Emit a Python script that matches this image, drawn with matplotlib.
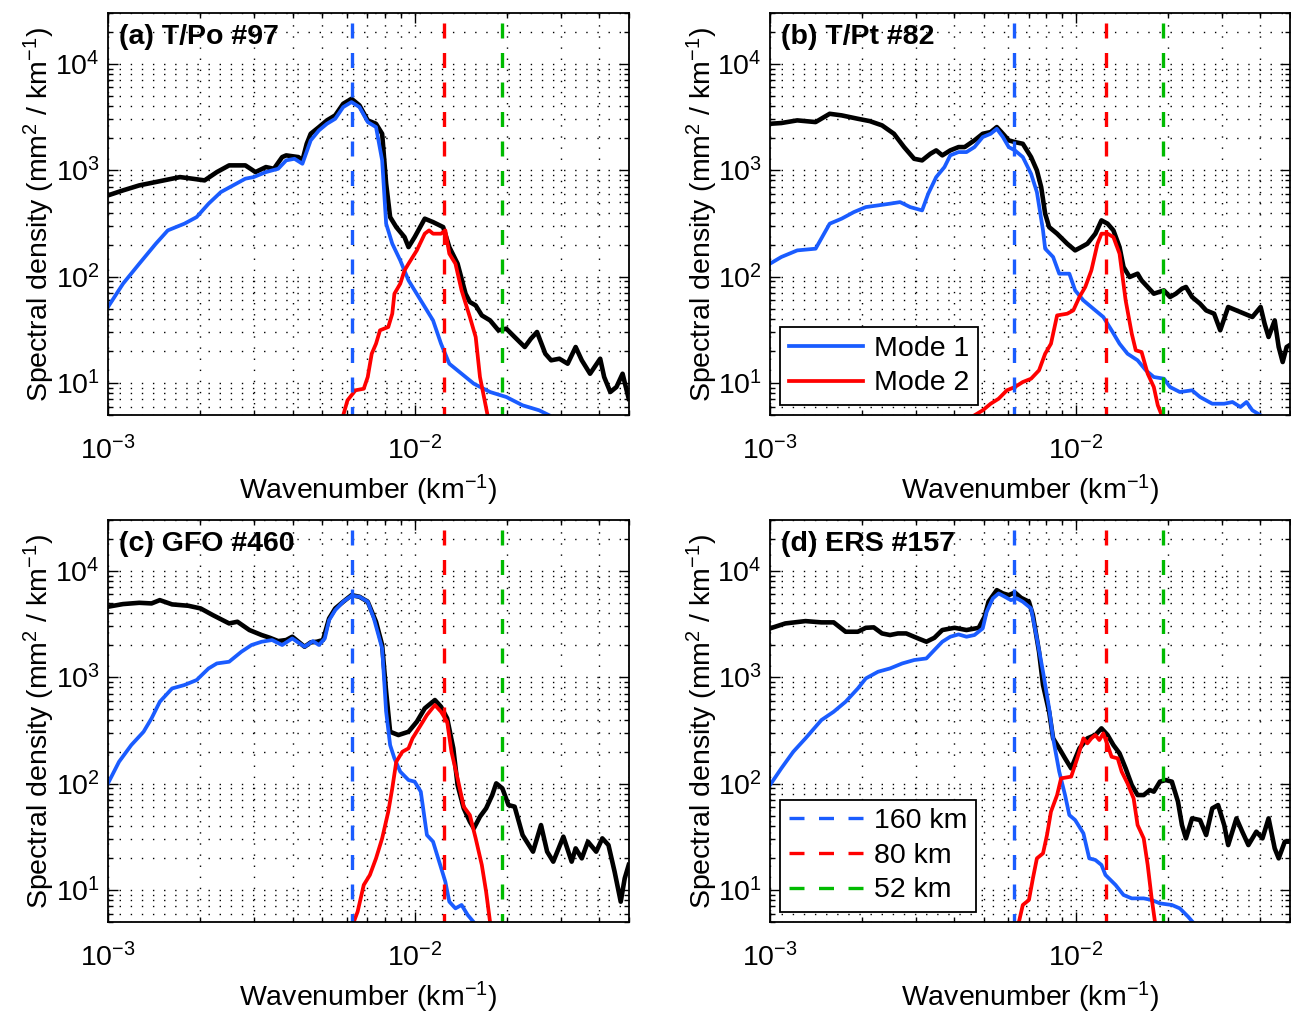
import numpy as np
import matplotlib
matplotlib.use("Agg")
import matplotlib.pyplot as plt
from matplotlib.lines import Line2D
from matplotlib.ticker import LogLocator, NullFormatter

plt.rcParams['font.family'] = ['Liberation Sans', 'DejaVu Sans']
plt.rcParams['mathtext.fontset'] = 'custom'
plt.rcParams['mathtext.rm'] = 'Liberation Sans'
plt.rcParams['mathtext.it'] = 'Liberation Sans:italic'
plt.rcParams['mathtext.bf'] = 'Liberation Sans:bold'

BLUE = '#1a5cff'
RED = '#ff0000'
GREEN = '#00bb00'
FS = 20.5

# reference wavelengths (km) shown as dashed lines
WAVELENGTHS = [160, 80, 52]
WL_COLORS = [BLUE, RED, GREEN]

TITLES = ['(a) T/Po #97', '(b) T/Pt #82', '(c) GFO #460', '(d) ERS #157']

# --- curves: log10(wavenumber [1/km]), log10(density) ---
# (a) T/Po #97
a_black_lk = [-3.000, -2.951, -2.898, -2.818, -2.765, -2.725, -2.685, -2.645, -2.605, -2.552, -2.519,
              -2.485, -2.459, -2.432, -2.419, -2.379, -2.366, -2.352, -2.339, -2.312, -2.286, -2.259,
              -2.233, -2.206, -2.180, -2.153, -2.126, -2.106, -2.093, -2.080, -2.060, -2.033, -2.020,
              -2.000, -1.967, -1.940, -1.907, -1.887, -1.860, -1.834, -1.820, -1.801, -1.781, -1.754,
              -1.727, -1.701, -1.674, -1.641, -1.621, -1.601, -1.574, -1.555, -1.528, -1.501, -1.475,
              -1.455, -1.428, -1.395, -1.382, -1.362, -1.342, -1.322, -1.302]
a_black_ls = [2.763, 2.810, 2.857, 2.904, 2.935, 2.920, 2.904, 2.982, 3.045, 3.045, 2.982,
              3.029, 3.013, 3.123, 3.139, 3.123, 3.092, 3.248, 3.342, 3.405, 3.468, 3.515,
              3.624, 3.671, 3.609, 3.468, 3.436, 3.342, 2.873, 2.559, 2.465, 2.371, 2.277,
              2.371, 2.544, 2.512, 2.465, 2.277, 2.121, 1.839, 1.761, 1.729, 1.635, 1.588,
              1.495, 1.510, 1.432, 1.338, 1.416, 1.479, 1.275, 1.213, 1.228, 1.181, 1.338,
              1.213, 1.087, 1.228, 1.056, 0.915, 0.962, 1.087, 0.852]
a_blue_lk = [-3.000, -2.951, -2.898, -2.844, -2.805, -2.751, -2.711, -2.672, -2.632, -2.592, -2.552,
             -2.525, -2.485, -2.445, -2.419, -2.392, -2.366, -2.339, -2.312, -2.286, -2.259, -2.233,
             -2.206, -2.180, -2.153, -2.126, -2.106, -2.093, -2.073, -2.047, -2.020, -1.980, -1.940,
             -1.914, -1.887, -1.847, -1.807, -1.754, -1.701, -1.648, -1.594, -1.561]
a_blue_ls = [1.714, 1.933, 2.121, 2.309, 2.434, 2.497, 2.559, 2.685, 2.794, 2.857, 2.920,
             2.935, 2.982, 3.013, 3.092, 3.107, 3.060, 3.280, 3.374, 3.436, 3.483, 3.593,
             3.640, 3.593, 3.452, 3.405, 3.092, 2.497, 2.309, 2.152, 1.964, 1.776, 1.588,
             1.369, 1.181, 1.087, 0.993, 0.915, 0.868, 0.790, 0.743, 0.696]
a_red_lk = [-2.233, -2.219, -2.193, -2.166, -2.153, -2.140, -2.126, -2.113, -2.086, -2.073, -2.066,
            -2.047, -2.033, -2.020, -1.993, -1.967, -1.953, -1.940, -1.914, -1.900, -1.887, -1.867,
            -1.847, -1.820, -1.801, -1.787, -1.774, -1.761]
a_red_ls = [0.696, 0.837, 0.931, 0.946, 1.056, 1.275, 1.369, 1.495, 1.526, 1.651, 1.839,
            1.933, 2.058, 2.121, 2.246, 2.403, 2.434, 2.403, 2.403, 2.434, 2.215, 2.121,
            1.870, 1.620, 1.432, 1.056, 0.868, 0.680]

# (b) T/Pt #82
b_black_lk = [-3.000, -2.963, -2.911, -2.851, -2.805, -2.766, -2.713, -2.674, -2.634, -2.595, -2.562,
              -2.529, -2.503, -2.476, -2.457, -2.437, -2.411, -2.384, -2.364, -2.332, -2.305, -2.279,
              -2.259, -2.239, -2.220, -2.200, -2.174, -2.147, -2.128, -2.114, -2.101, -2.088, -2.062,
              -2.029, -2.003, -1.983, -1.963, -1.937, -1.917, -1.897, -1.878, -1.858, -1.845, -1.825,
              -1.799, -1.786, -1.766, -1.746, -1.713, -1.693, -1.674, -1.654, -1.641, -1.621, -1.595,
              -1.575, -1.549, -1.529, -1.503, -1.476, -1.450, -1.424, -1.397, -1.384, -1.371, -1.351,
              -1.338, -1.325, -1.312, -1.295]
b_black_ls = [3.436, 3.443, 3.468, 3.452, 3.530, 3.515, 3.483, 3.461, 3.421, 3.342, 3.217,
              3.107, 3.092, 3.154, 3.186, 3.139, 3.186, 3.217, 3.217, 3.280, 3.342, 3.358,
              3.405, 3.342, 3.280, 3.264, 3.248, 3.123, 2.998, 2.841, 2.591, 2.465, 2.403,
              2.309, 2.246, 2.277, 2.309, 2.403, 2.528, 2.497, 2.434, 2.277, 2.090, 1.996,
              2.027, 1.964, 1.902, 1.839, 1.870, 1.808, 1.839, 1.886, 1.902, 1.808, 1.745,
              1.682, 1.651, 1.495, 1.714, 1.682, 1.651, 1.620, 1.714, 1.557, 1.432, 1.588,
              1.338, 1.197, 1.338, 1.369]
b_blue_lk = [-3.000, -2.963, -2.911, -2.851, -2.805, -2.766, -2.726, -2.687, -2.647, -2.608, -2.575,
             -2.542, -2.503, -2.483, -2.457, -2.430, -2.411, -2.384, -2.358, -2.332, -2.305, -2.279,
             -2.259, -2.239, -2.220, -2.200, -2.174, -2.147, -2.128, -2.108, -2.101, -2.075, -2.055,
             -2.022, -2.003, -1.976, -1.937, -1.911, -1.884, -1.858, -1.832, -1.799, -1.772, -1.746,
             -1.713, -1.693, -1.661, -1.621, -1.595, -1.555, -1.516, -1.489, -1.463, -1.443, -1.424,
             -1.397]
b_blue_ls = [2.121, 2.184, 2.246, 2.262, 2.497, 2.544, 2.606, 2.653, 2.669, 2.685, 2.700,
             2.653, 2.622, 2.779, 2.935, 3.029, 3.139, 3.170, 3.170, 3.217, 3.311, 3.342,
             3.389, 3.311, 3.217, 3.186, 3.123, 2.966, 2.794, 2.434, 2.262, 2.184, 2.027,
             2.027, 1.870, 1.776, 1.682, 1.620, 1.495, 1.369, 1.275, 1.213, 1.119, 1.056,
             1.040, 0.962, 0.915, 0.931, 0.868, 0.805, 0.805, 0.821, 0.774, 0.821, 0.743,
             0.696]
b_red_lk = [-2.332, -2.305, -2.279, -2.253, -2.226, -2.200, -2.174, -2.147, -2.121, -2.101, -2.082,
            -2.062, -2.029, -2.009, -1.989, -1.970, -1.950, -1.930, -1.917, -1.897, -1.878, -1.858,
            -1.838, -1.818, -1.805, -1.786, -1.766, -1.746, -1.733, -1.720]
b_red_ls = [0.696, 0.743, 0.805, 0.852, 0.931, 0.962, 1.009, 1.040, 1.119, 1.275, 1.369,
            1.635, 1.651, 1.682, 1.808, 1.902, 2.058, 2.309, 2.403, 2.403, 2.371, 2.215,
            1.776, 1.463, 1.307, 1.291, 1.087, 0.962, 0.790, 0.696]

# (c) GFO #460
c_black_lk = [-3.000, -2.951, -2.898, -2.858, -2.831, -2.791, -2.738, -2.698, -2.658, -2.605, -2.578,
              -2.539, -2.499, -2.472, -2.445, -2.419, -2.399, -2.379, -2.359, -2.339, -2.319, -2.299,
              -2.279, -2.259, -2.233, -2.206, -2.180, -2.153, -2.126, -2.106, -2.093, -2.080, -2.053,
              -2.020, -1.993, -1.967, -1.934, -1.914, -1.894, -1.874, -1.860, -1.840, -1.820, -1.807,
              -1.787, -1.767, -1.747, -1.734, -1.714, -1.694, -1.674, -1.648, -1.614, -1.588, -1.568,
              -1.548, -1.515, -1.488, -1.475, -1.455, -1.435, -1.408, -1.388, -1.368, -1.348, -1.328,
              -1.315, -1.302]
c_black_ls = [3.662, 3.687, 3.699, 3.693, 3.724, 3.684, 3.671, 3.646, 3.583, 3.505, 3.521,
              3.443, 3.396, 3.370, 3.339, 3.349, 3.380, 3.333, 3.286, 3.327, 3.333, 3.349,
              3.552, 3.646, 3.709, 3.771, 3.756, 3.709, 3.521, 3.302, 2.863, 2.487, 2.456,
              2.487, 2.581, 2.707, 2.785, 2.722, 2.613, 2.331, 1.986, 1.767, 1.642, 1.579,
              1.689, 1.767, 1.892, 2.002, 1.955, 1.798, 1.783, 1.516, 1.360, 1.610, 1.360,
              1.266, 1.501, 1.266, 1.391, 1.297, 1.454, 1.360, 1.485, 1.422, 1.172, 0.890,
              1.109, 1.235]
c_blue_lk = [-3.000, -2.964, -2.924, -2.884, -2.858, -2.831, -2.791, -2.751, -2.711, -2.672, -2.645,
             -2.605, -2.565, -2.532, -2.499, -2.465, -2.432, -2.399, -2.359, -2.332, -2.312, -2.293,
             -2.279, -2.259, -2.233, -2.206, -2.180, -2.153, -2.133, -2.106, -2.093, -2.080, -2.066,
             -2.047, -2.020, -2.000, -1.980, -1.960, -1.940, -1.920, -1.900, -1.887, -1.867, -1.847,
             -1.827, -1.807]
c_blue_ls = [2.002, 2.205, 2.362, 2.487, 2.613, 2.769, 2.894, 2.926, 2.973, 3.082, 3.129,
             3.145, 3.239, 3.302, 3.333, 3.349, 3.302, 3.364, 3.286, 3.339, 3.302, 3.364,
             3.536, 3.630, 3.709, 3.765, 3.756, 3.709, 3.552, 3.270, 2.675, 2.362, 2.237,
             2.112, 2.033, 2.018, 1.924, 1.516, 1.454, 1.266, 1.078, 0.890, 0.827, 0.859,
             0.765, 0.696]
c_red_lk = [-2.199, -2.186, -2.166, -2.146, -2.126, -2.106, -2.086, -2.073, -2.060, -2.040, -2.020,
            -2.007, -1.980, -1.960, -1.934, -1.914, -1.894, -1.880, -1.860, -1.840, -1.820, -1.801,
            -1.781, -1.767, -1.754]
c_red_ls = [0.696, 0.796, 1.047, 1.141, 1.297, 1.485, 1.736, 1.955, 2.205, 2.299, 2.331,
            2.425, 2.550, 2.644, 2.738, 2.675, 2.581, 2.299, 2.049, 1.783, 1.704, 1.485,
            1.235, 0.984, 0.696]

# (d) ERS #157
d_black_lk = [-3.000, -2.950, -2.884, -2.832, -2.792, -2.753, -2.713, -2.687, -2.661, -2.634, -2.608,
              -2.582, -2.555, -2.516, -2.489, -2.463, -2.437, -2.397, -2.358, -2.318, -2.299, -2.286,
              -2.259, -2.239, -2.220, -2.200, -2.180, -2.154, -2.141, -2.121, -2.108, -2.088, -2.075,
              -2.055, -2.036, -2.016, -1.989, -1.963, -1.937, -1.917, -1.897, -1.878, -1.858, -1.838,
              -1.818, -1.799, -1.779, -1.759, -1.746, -1.726, -1.707, -1.687, -1.667, -1.654, -1.641,
              -1.621, -1.595, -1.575, -1.555, -1.536, -1.516, -1.503, -1.476, -1.457, -1.437, -1.411,
              -1.391, -1.371, -1.351, -1.338, -1.318, -1.295]
d_black_ls = [3.458, 3.505, 3.527, 3.515, 3.515, 3.427, 3.427, 3.464, 3.468, 3.411, 3.396,
              3.411, 3.411, 3.364, 3.333, 3.370, 3.443, 3.464, 3.443, 3.464, 3.568, 3.709,
              3.818, 3.787, 3.771, 3.796, 3.746, 3.709, 3.583, 3.239, 2.926, 2.675, 2.425,
              2.331, 2.237, 2.143, 2.331, 2.425, 2.456, 2.519, 2.456, 2.362, 2.284, 2.143,
              1.986, 1.892, 1.892, 1.939, 1.924, 2.018, 2.033, 2.018, 1.830, 1.610, 1.485,
              1.673, 1.657, 1.516, 1.767, 1.798, 1.610, 1.422, 1.673, 1.548, 1.422, 1.548,
              1.485, 1.673, 1.391, 1.297, 1.454, 1.454]
d_blue_lk = [-3.000, -2.963, -2.924, -2.884, -2.832, -2.792, -2.753, -2.713, -2.687, -2.647, -2.608,
             -2.568, -2.529, -2.489, -2.463, -2.437, -2.411, -2.384, -2.358, -2.332, -2.305, -2.292,
             -2.272, -2.253, -2.233, -2.213, -2.193, -2.174, -2.147, -2.128, -2.108, -2.088, -2.075,
             -2.055, -2.036, -2.022, -2.003, -1.976, -1.957, -1.937, -1.917, -1.904, -1.871, -1.845,
             -1.818, -1.779, -1.753, -1.726, -1.687, -1.661, -1.634, -1.618]
d_blue_ls = [1.986, 2.143, 2.299, 2.425, 2.597, 2.675, 2.769, 2.894, 2.988, 3.051, 3.082,
             3.129, 3.161, 3.176, 3.255, 3.333, 3.380, 3.402, 3.380, 3.396, 3.458, 3.615,
             3.740, 3.787, 3.756, 3.724, 3.740, 3.709, 3.646, 3.364, 3.051, 2.707, 2.425,
             2.112, 1.892, 1.704, 1.657, 1.532, 1.297, 1.282, 1.235, 1.141, 1.047, 0.953,
             0.921, 0.921, 0.906, 0.874, 0.859, 0.827, 0.749, 0.696]
d_red_lk = [-2.187, -2.174, -2.154, -2.141, -2.128, -2.108, -2.095, -2.082, -2.062, -2.049, -2.016,
            -1.996, -1.976, -1.963, -1.950, -1.937, -1.924, -1.911, -1.897, -1.884, -1.864, -1.851,
            -1.832, -1.812, -1.799, -1.779, -1.766, -1.753, -1.742]
d_red_ls = [0.696, 0.859, 0.906, 1.109, 1.297, 1.344, 1.516, 1.736, 1.892, 2.049, 2.065,
            2.237, 2.425, 2.378, 2.425, 2.456, 2.409, 2.472, 2.362, 2.252, 2.237, 2.112,
            2.002, 1.861, 1.610, 1.485, 1.235, 0.921, 0.696]

panels = [
    (TITLES[0], (a_black_lk, a_black_ls), (a_blue_lk, a_blue_ls), (a_red_lk, a_red_ls)),
    (TITLES[1], (b_black_lk, b_black_ls), (b_blue_lk, b_blue_ls), (b_red_lk, b_red_ls)),
    (TITLES[2], (c_black_lk, c_black_ls), (c_blue_lk, c_blue_ls), (c_red_lk, c_red_ls)),
    (TITLES[3], (d_black_lk, d_black_ls), (d_blue_lk, d_blue_ls), (d_red_lk, d_red_ls)),
]

XLIM = (1e-3, 0.05)
YLIM = (5, 3e4)
DASH_SEQ = (4.5, 4.35)          # long dashes, ~15 px on / 15 px off
DASH = (5.85, DASH_SEQ)         # vertical lines start from the top with a short gap

W, H = 1291, 1015
fig = plt.figure(figsize=(W / 100, H / 100), dpi=100)

# axes boxes in pixels: left, top, right, bottom
boxes = [(108, 13, 629, 415), (770, 13, 1290, 415),
         (108, 520, 629, 922), (770, 520, 1290, 922)]

for i, (title, blk, blu, rd) in enumerate(panels):
    l, t, r, b = boxes[i]
    ax = fig.add_axes([l / W, 1 - b / H, (r - l) / W, (b - t) / H])
    ax.set_xscale('log'); ax.set_yscale('log')

    ax.plot(10 ** np.array(blk[0]), 10 ** np.array(blk[1]), color='k', lw=3.3, solid_joinstyle='round')
    h1, = ax.plot(10 ** np.array(blu[0]), 10 ** np.array(blu[1]), color=BLUE, lw=2.7,
                  solid_joinstyle='round', label='Mode 1')
    h2, = ax.plot(10 ** np.array(rd[0]), 10 ** np.array(rd[1]), color=RED, lw=2.7,
                  solid_joinstyle='round', label='Mode 2')

    for wl, c in zip(WAVELENGTHS, WL_COLORS):
        ax.plot([1.0 / wl, 1.0 / wl], [YLIM[1], YLIM[0]], color=c, lw=2.4, ls=DASH)

    ax.set_xlim(*XLIM); ax.set_ylim(*YLIM)

    ax.xaxis.set_major_locator(LogLocator(base=10, numticks=10))
    ax.xaxis.set_minor_locator(LogLocator(base=10, subs=np.arange(2, 10), numticks=20))
    ax.xaxis.set_minor_formatter(NullFormatter())
    ax.yaxis.set_major_locator(LogLocator(base=10, numticks=10))
    ax.yaxis.set_minor_locator(LogLocator(base=10, subs=np.arange(2, 10), numticks=20))
    ax.yaxis.set_minor_formatter(NullFormatter())

    ax.set_axisbelow(True)
    ax.grid(True, which='both', color='k', lw=1.0, ls=(0, (1, 7)))
    ax.tick_params(which='both', direction='in', top=True, right=True, labelsize=FS, width=1.0)
    ax.tick_params(which='major', length=7)
    ax.tick_params(which='minor', length=3.5)
    ax.tick_params(axis='x', pad=15)
    ax.tick_params(axis='y', pad=6)
    for s in ax.spines.values():
        s.set_linewidth(1.3)

    ax.set_xlabel('Wavenumber (km$^{-1}$)', fontsize=FS)
    ax.set_ylabel('Spectral density (mm$^2$ / km$^{-1}$)', fontsize=FS)
    ax.xaxis.set_label_coords(0.5, -0.145)
    ax.yaxis.set_label_coords(-0.097, 0.5)

    ax.text(0.022, 0.972, title, transform=ax.transAxes, ha='left', va='top',
            fontsize=FS, fontweight='bold')

    leg_kw = dict(loc='lower left', fontsize=FS, fancybox=False, edgecolor='k', framealpha=1,
                  handlelength=2.6, handletextpad=0.4, labelspacing=0.3, borderpad=0.3,
                  borderaxespad=0.35)
    if i == 1:
        leg = ax.legend(handles=[h1, h2], **leg_kw)
        leg.get_frame().set_linewidth(1.3)
    if i == 3:
        proxies = [Line2D([], [], color=c, lw=2.4, ls=(0, DASH_SEQ), label=f'{wl} km')
                   for wl, c in zip(WAVELENGTHS, WL_COLORS)]
        leg = ax.legend(handles=proxies, **leg_kw)
        leg.get_frame().set_linewidth(1.3)

fig.savefig('out.png', dpi=100)
